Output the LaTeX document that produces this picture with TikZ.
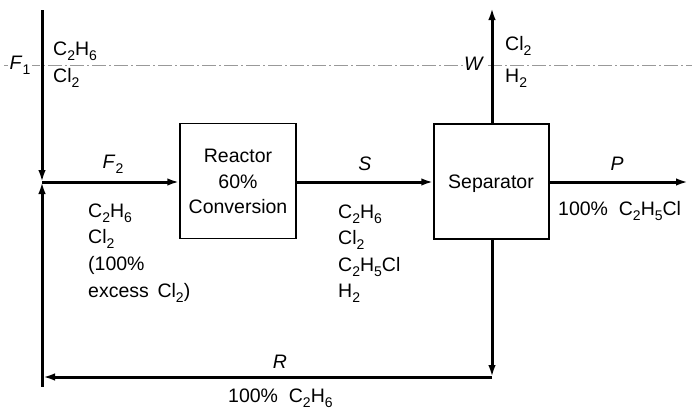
\documentclass[tikz,border=0pt]{standalone}
\usepackage{fontspec}
\setmainfont{Liberation Sans}
\usetikzlibrary{arrows.meta}
\newcommand\chsub[1]{\raisebox{-0.5ex}{\fontsize{14}{14}\selectfont #1}}
\begin{document}
\begin{tikzpicture}[x=1pt,y=-1pt,
  lbl/.style={font=\fontsize{19.5}{21}\selectfont, inner sep=0pt},
  unit/.style={draw, line width=1.4pt, minimum width=#1, minimum height=115pt, inner sep=0pt},
  flow/.style={line width=3pt, -{Latex[length=12pt,width=7.5pt]}},
  plain/.style={line width=3pt},
  cut/.style={gray!80, line width=0.7pt, dash pattern=on 14pt off 3pt on 2pt off 3pt}
]
\useasboundingbox (0,0) rectangle (694,410);
% dash-dot envelope line
\coordinate (dl) at (4,65);
\coordinate (dr) at (692,65);
\draw[cut] (dl) -- (dr);
% units
\node[unit=116pt] (reactor) at (238,181) {};
\node[unit=115pt] (sep) at (491.5,181.5) {};
% coordinates
\coordinate (ftop) at (42,10);
\coordinate (j) at (42,182);
\coordinate (pend) at (688,182);
\coordinate (wtop) at (492,8);
\coordinate (c1) at (492,377);
\coordinate (c2) at (42,377);
% streams
\draw[flow] (ftop) -- (j);
\draw[flow] (j) -- (reactor.west |- j);
\draw[flow] (reactor.east |- j) -- (sep.west |- j);
\draw[flow] (sep.east |- j) -- (pend);
\draw[flow] (sep.north -| wtop) -- (wtop);
\draw[flow] (sep.south -| c1) -- (c1);
\draw[flow, shorten >=1pt] (c1) -- (c2);
\draw[plain] ([yshift=1.5pt]c2) -- ([yshift=-10pt]j |- c2);
\draw[flow] (c2) -- (j);
% unit texts
\node[lbl, anchor=base] (rt1) at (238,162) {Reactor};
\node[lbl, anchor=base] (rt2) at (238,188) {60\%};
\node[lbl, anchor=base] (rt3) at (238,213) {Conversion};
\node[lbl, anchor=base] (st) at (491,188) {Separator};
% labels
\node[lbl, anchor=base, fill=white, inner xsep=1.5pt] (f1) at (20,69) {\textit{F}\chsub{1}};
\node[lbl, anchor=base west] (f1a) at (53,55) {C\chsub{2}H\chsub{6}};
\node[lbl, anchor=base west] (f1b) at (53,82) {Cl\chsub{2}};
\node[lbl, anchor=base] (f2) at (113,168) {\textit{F}\chsub{2}};
\node[lbl, anchor=base west] (f2a) at (88,217) {C\chsub{2}H\chsub{6}};
\node[lbl, anchor=base west] (f2b) at (88,243) {Cl\chsub{2}};
\node[lbl, anchor=base west] (f2c) at (88,270) {(100\%};
\node[lbl, anchor=base west] (f2d) at (88,297) {excess\, Cl\chsub{2})};
\node[lbl, anchor=base] (s) at (365,170) {\textit{S}};
\node[lbl, anchor=base west] (sa) at (338,218) {C\chsub{2}H\chsub{6}};
\node[lbl, anchor=base west] (sb) at (338,244) {Cl\chsub{2}};
\node[lbl, anchor=base west] (sc) at (338,271) {C\chsub{2}H\chsub{5}Cl};
\node[lbl, anchor=base west] (sd) at (338,297) {H\chsub{2}};
\node[lbl, anchor=base] (p) at (617,170) {\textit{P}};
\node[lbl, anchor=base west] (pa) at (558,215) {100\%\; C\chsub{2}H\chsub{5}Cl};
\node[lbl, anchor=base, fill=white, inner xsep=1.5pt] (w) at (474,70) {\textit{W}};
\node[lbl, anchor=base west] (wa) at (505,50) {Cl\chsub{2}};
\node[lbl, anchor=base west] (wb) at (505,82) {H\chsub{2}};
\node[lbl, anchor=base] (r) at (280,368) {\textit{R}};
\node[lbl, anchor=base west] (ra) at (228,402) {100\%\; C\chsub{2}H\chsub{6}};
\end{tikzpicture}
\end{document}
